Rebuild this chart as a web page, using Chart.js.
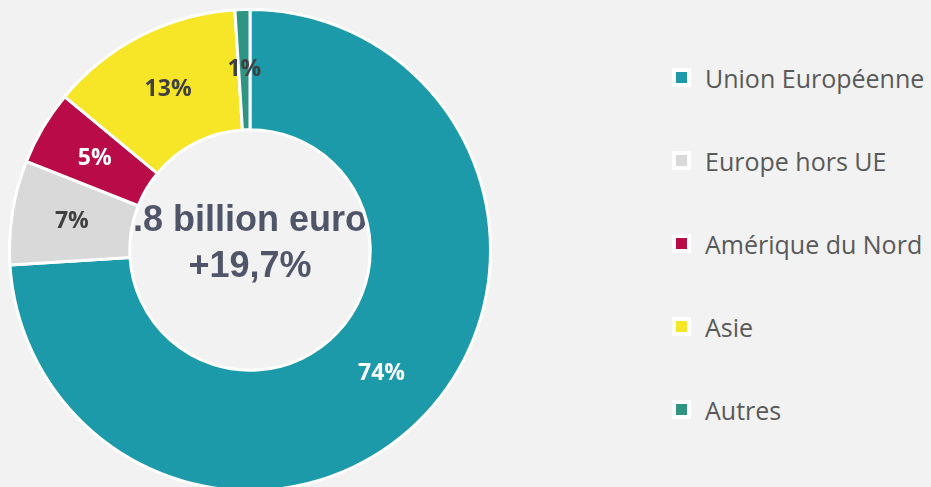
<!DOCTYPE html>
<html>
<head>
<meta charset="utf-8">
<script src="https://cdn.jsdelivr.net/npm/chart.js@4.4.0/dist/chart.umd.min.js"></script>
<style>
  html, body { margin: 0; padding: 0; background: #f2f2f2; }
  body { width: 931px; height: 487px; position: relative; overflow: hidden; }
  #wrap { position: absolute; left: 8px; top: 8px; width: 484px; height: 484px; }
  #legend { position: absolute; left: 672px; top: 36px; font-family: "Open Sans", sans-serif; font-size: 25px; color: #595959; }
  .item { height: 83px; display: flex; align-items: center; white-space: nowrap; }
  .box { width: 11px; height: 11px; border: 4px solid #fff; margin-right: 14px; }
</style>
</head>
<body>
<div id="wrap"><canvas id="myChart"></canvas></div>
<div id="legend"></div>
<script>
// data
const regions = ['Union Européenne', 'Europe hors UE', 'Amérique du Nord', 'Asie', 'Autres']
const shares = [74, 7, 5, 13, 1]
const colors = ['#1d9aaa', '#d9d9d9', '#b90b47', '#f7e628', '#2f9482']
const labelColors = ['#ffffff', '#404040', '#ffffff', '#404040', '#404040']
const centerLines = ['1.8 billion euros', '+19,7%']

// html legend
const legend = document.querySelector('#legend')
regions.forEach((name, i) => {
    const item = document.createElement('div')
    item.className = 'item'
    const box = document.createElement('span')
    box.className = 'box'
    box.style.background = colors[i]
    item.append(box, document.createTextNode(name))
    legend.append(item)
})

// percent labels + clipped text in the hole
const extras = {
    id: 'extras',
    afterDatasetsDraw(chart) {
        const ctx = chart.ctx
        const meta = chart.getDatasetMeta(0)
        ctx.save()
        ctx.textAlign = 'center'
        ctx.textBaseline = 'middle'
        ctx.font = 'bold 23px "Open Sans"'
        meta.data.forEach((arc, i) => {
            const pos = arc.tooltipPosition()
            ctx.fillStyle = labelColors[i]
            ctx.fillText(shares[i] + '%', pos.x, pos.y)
        })
        const first = meta.data[0]
        ctx.beginPath()
        ctx.arc(first.x, first.y, first.innerRadius - 2, 0, Math.PI * 2)
        ctx.clip()
        ctx.fillStyle = '#505569'
        ctx.font = 'bold 36px "Liberation Sans", Arial'
        ctx.textBaseline = 'alphabetic'
        ctx.fillText(centerLines[0], first.x, first.y - 19)
        ctx.fillText(centerLines[1], first.x, first.y + 27)
        ctx.restore()
    }
}

const config = {
    type: 'doughnut',
    data: {
        labels: regions,
        datasets: [{
            data: shares,
            backgroundColor: colors,
            borderColor: '#ffffff',
            borderWidth: 3
        }]
    },
    options: {
        responsive: true,
        maintainAspectRatio: false,
        animation: false,
        cutout: '50%',
        plugins: {
            legend: { display: false },
            tooltip: { enabled: false }
        }
    },
    plugins: [extras]
}
const myChart = new Chart(document.getElementById('myChart'), config)
</script>
</body>
</html>
